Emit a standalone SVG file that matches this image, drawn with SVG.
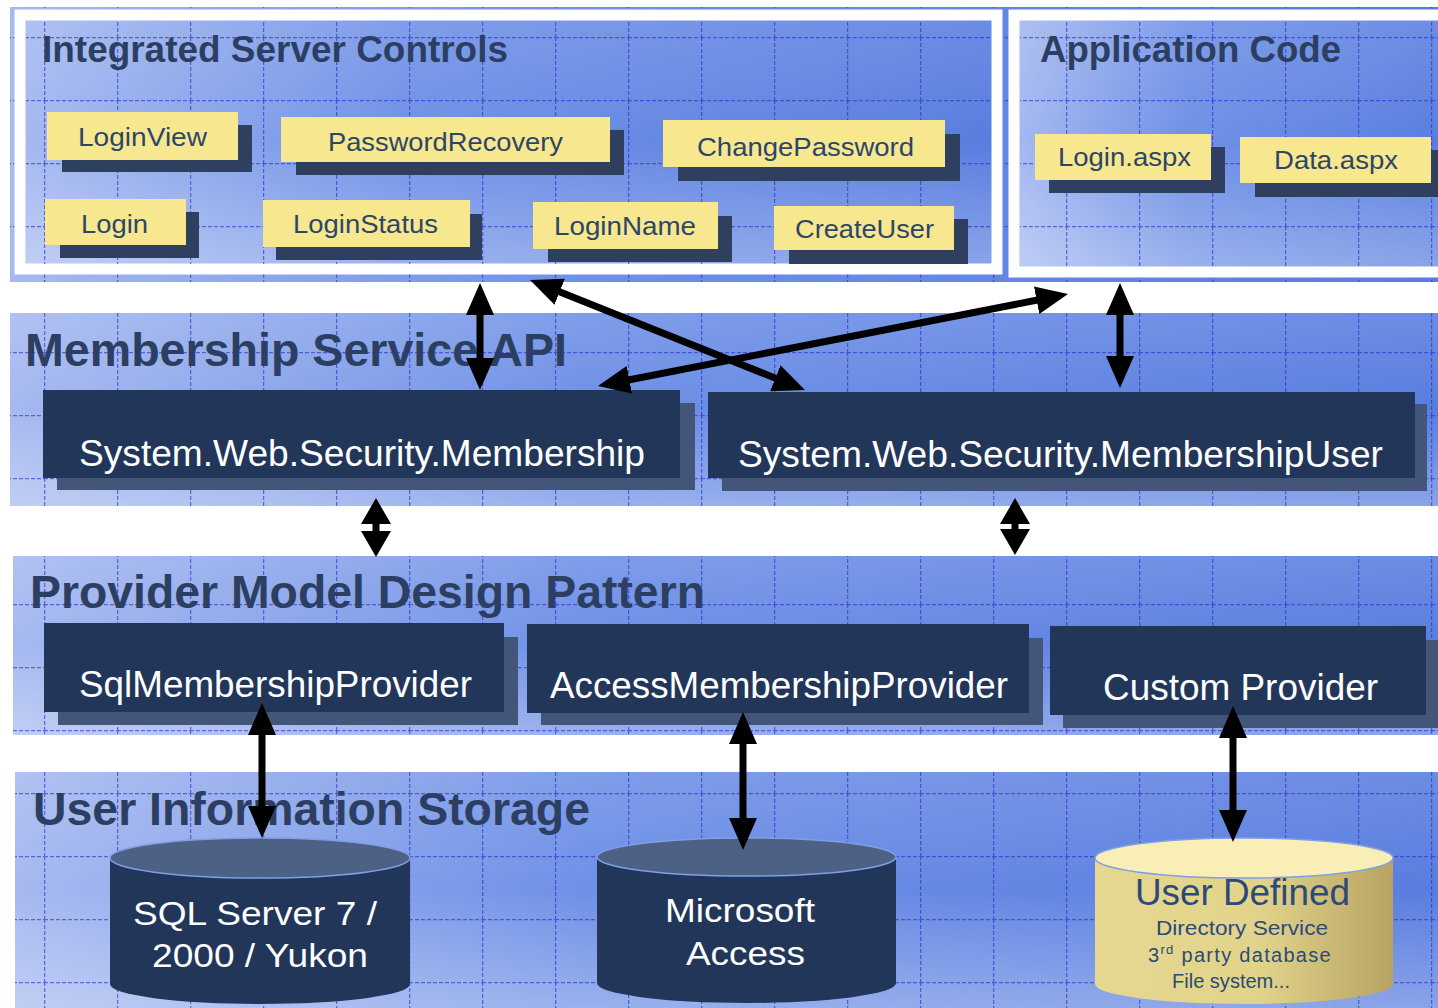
<svg xmlns="http://www.w3.org/2000/svg" width="1438" height="1008" viewBox="0 0 1438 1008">
<style>
.ttl{font-family:"Liberation Sans",Arial,sans-serif;font-weight:bold;font-size:46px;fill:#2c3f63}
.ttl2{font-family:"Liberation Sans",Arial,sans-serif;font-weight:bold;font-size:37px;fill:#2c3f63}
.yb{fill:#f7e78f}
.ys{fill:#2f3f5f}
.yt{font-family:"Liberation Sans",Arial,sans-serif;font-size:25px;fill:#2d4668}
.db{fill:#22365a}
.ds{fill:#44557a}
.dt{font-family:"Liberation Sans",Arial,sans-serif;font-size:37px;fill:#ffffff}
.ct{font-family:"Liberation Sans",Arial,sans-serif;font-size:34px;fill:#ffffff}
.ut{font-family:"Liberation Sans",Arial,sans-serif;fill:#2b4a7a}
.grid{fill:url(#grid)}
.arr{stroke:#000;stroke-width:7;fill:none;marker-start:url(#ah);marker-end:url(#ah)}
.arrs{stroke:#000;stroke-width:7;fill:none;marker-start:url(#ahs);marker-end:url(#ahs)}
</style>
<defs>
<linearGradient id="pg" x1="0" y1="0" x2="1" y2="0">
<stop offset="0" stop-color="#a6b9f0"/>
<stop offset="0.4" stop-color="#6e90e6"/>
<stop offset="1" stop-color="#587ddf"/>
</linearGradient>
<linearGradient id="pv" x1="0" y1="0" x2="0" y2="1">
<stop offset="0" stop-color="#ffffff" stop-opacity="0.12"/>
<stop offset="0.5" stop-color="#ffffff" stop-opacity="0"/>
<stop offset="1" stop-color="#ffffff" stop-opacity="0.3"/>
</linearGradient>
<linearGradient id="yc" x1="0" y1="0" x2="1" y2="0">
<stop offset="0" stop-color="#e6d891"/>
<stop offset="0.55" stop-color="#e2d38a"/>
<stop offset="1" stop-color="#b7a462"/>
</linearGradient>
<pattern id="grid" patternUnits="userSpaceOnUse" x="44" y="100" width="73" height="63">
<path d="M0.5,0 V63 M0,0.5 H73" stroke="#2a2acc" stroke-width="1.5" stroke-dasharray="4 2" stroke-opacity="0.62" fill="none"/>
</pattern>
<marker id="ah" markerUnits="userSpaceOnUse" viewBox="0 0 32 28" markerWidth="32" markerHeight="28" refX="1" refY="14" orient="auto-start-reverse">
<path d="M0,0 L32,14 L0,28 z" fill="#000"/>
</marker>
<marker id="ahs" markerUnits="userSpaceOnUse" viewBox="0 0 26 30" markerWidth="26" markerHeight="30" refX="1" refY="15" orient="auto-start-reverse">
<path d="M0,0 L26,15 L0,30 z" fill="#000"/>
</marker>
</defs>

<rect width="1438" height="1008" fill="#ffffff"/>

<!-- Top section -->
<g id="top-band">
<rect x="10" y="7" width="1428" height="275" fill="url(#pg)"/>
<rect x="10" y="7" width="1428" height="275" class="grid"/>
</g>

<g id="integrated-server-controls">
<rect x="20" y="15" width="977" height="254" fill="url(#pg)" stroke="#ffffff" stroke-width="11"/>
<rect x="26" y="20" width="966" height="244" fill="url(#pv)"/>
<rect x="26" y="20" width="966" height="244" class="grid"/>
<text class="ttl2" x="42" y="62" textLength="466" lengthAdjust="spacingAndGlyphs">Integrated Server Controls</text>
</g>

<g id="application-code">
<rect x="1014" y="15" width="440" height="257" fill="url(#pg)" stroke="#ffffff" stroke-width="11"/>
<rect x="1020" y="20" width="418" height="247" fill="url(#pv)"/>
<rect x="1020" y="20" width="418" height="247" class="grid"/>
<text class="ttl2" x="1040" y="62" textLength="301" lengthAdjust="spacingAndGlyphs">Application Code</text>
</g>

<g id="loginview">
<rect class="ys" x="62" y="125" width="190" height="47"/>
<rect class="yb" x="47" y="112" width="191" height="48"/>
<text class="yt" x="78" y="146" textLength="129" lengthAdjust="spacingAndGlyphs">LoginView</text>
</g>
<g id="passwordrecovery">
<rect class="ys" x="296" y="130" width="328" height="45"/>
<rect class="yb" x="281" y="117" width="329" height="45"/>
<text class="yt" x="328" y="151" textLength="235" lengthAdjust="spacingAndGlyphs">PasswordRecovery</text>
</g>
<g id="changepassword">
<rect class="ys" x="678" y="134" width="282" height="47"/>
<rect class="yb" x="663" y="120" width="282" height="47"/>
<text class="yt" x="697" y="156" textLength="217" lengthAdjust="spacingAndGlyphs">ChangePassword</text>
</g>
<g id="login">
<rect class="ys" x="60" y="212" width="139" height="46"/>
<rect class="yb" x="45" y="199" width="141" height="46"/>
<text class="yt" x="81" y="233" textLength="67" lengthAdjust="spacingAndGlyphs">Login</text>
</g>
<g id="loginstatus">
<rect class="ys" x="276" y="214" width="206" height="46"/>
<rect class="yb" x="263" y="200" width="207" height="47"/>
<text class="yt" x="293" y="233" textLength="145" lengthAdjust="spacingAndGlyphs">LoginStatus</text>
</g>
<g id="loginname">
<rect class="ys" x="548" y="216" width="184" height="46"/>
<rect class="yb" x="533" y="202" width="185" height="47"/>
<text class="yt" x="554" y="235" textLength="142" lengthAdjust="spacingAndGlyphs">LoginName</text>
</g>
<g id="createuser">
<rect class="ys" x="789" y="219" width="179" height="45"/>
<rect class="yb" x="774" y="206" width="180" height="44"/>
<text class="yt" x="795" y="238" textLength="139" lengthAdjust="spacingAndGlyphs">CreateUser</text>
</g>
<g id="login-aspx">
<rect class="ys" x="1049" y="147" width="176" height="46"/>
<rect class="yb" x="1035" y="134" width="176" height="46"/>
<text class="yt" x="1058" y="166" textLength="133" lengthAdjust="spacingAndGlyphs">Login.aspx</text>
</g>
<g id="data-aspx">
<rect class="ys" x="1255" y="150" width="190" height="47"/>
<rect class="yb" x="1240" y="137" width="191" height="46"/>
<text class="yt" x="1274" y="169" textLength="124" lengthAdjust="spacingAndGlyphs">Data.aspx</text>
</g>

<!-- Membership Service API -->
<g id="membership-service-api">
<rect x="10" y="313" width="1428" height="193" fill="url(#pg)"/>
<rect x="10" y="313" width="1428" height="193" fill="url(#pv)"/>
<rect x="10" y="313" width="1428" height="193" class="grid"/>
<text class="ttl" x="25" y="366" textLength="542" lengthAdjust="spacingAndGlyphs">Membership Service API</text>
</g>
<g id="membership">
<rect class="ds" x="57" y="403" width="638" height="87"/>
<rect class="db" x="43" y="390" width="637" height="88"/>
<text class="dt" x="79" y="466" textLength="566" lengthAdjust="spacingAndGlyphs">System.Web.Security.Membership</text>
</g>
<g id="membershipuser">
<rect class="ds" x="722" y="404" width="705" height="87"/>
<rect class="db" x="708" y="392" width="707" height="86"/>
<text class="dt" x="738" y="467" textLength="645" lengthAdjust="spacingAndGlyphs">System.Web.Security.MembershipUser</text>
</g>

<!-- Provider Model -->
<g id="provider-model-design-pattern">
<rect x="13" y="556" width="1425" height="179" fill="url(#pg)"/>
<rect x="13" y="556" width="1425" height="179" fill="url(#pv)"/>
<rect x="13" y="556" width="1425" height="179" class="grid"/>
<text class="ttl" x="30" y="608" textLength="675" lengthAdjust="spacingAndGlyphs">Provider Model Design Pattern</text>
</g>
<g id="sqlmembershipprovider">
<rect class="ds" x="58" y="637" width="460" height="88"/>
<rect class="db" x="44" y="623" width="460" height="89"/>
<text class="dt" x="79" y="697" textLength="393" lengthAdjust="spacingAndGlyphs">SqlMembershipProvider</text>
</g>
<g id="accessmembershipprovider">
<rect class="ds" x="541" y="638" width="502" height="87"/>
<rect class="db" x="527" y="624" width="502" height="89"/>
<text class="dt" x="550" y="698" textLength="458" lengthAdjust="spacingAndGlyphs">AccessMembershipProvider</text>
</g>
<g id="custom-provider">
<rect class="ds" x="1063" y="640" width="380" height="88"/>
<rect class="db" x="1050" y="626" width="376" height="89"/>
<text class="dt" x="1103" y="700" textLength="275" lengthAdjust="spacingAndGlyphs">Custom Provider</text>
</g>

<!-- Storage -->
<g id="user-information-storage">
<rect x="15" y="772" width="1423" height="236" fill="url(#pg)"/>
<rect x="15" y="772" width="1423" height="236" fill="url(#pv)"/>
<rect x="15" y="772" width="1423" height="236" class="grid"/>
<text class="ttl" x="33" y="825" textLength="557" lengthAdjust="spacingAndGlyphs">User Information Storage</text>
</g>
<g id="sql-server">
<path d="M110,858 V984 A150,20 0 0 0 410,984 V858 Z" fill="#22365a"/>
<ellipse cx="260" cy="858" rx="150" ry="20" fill="#4c6184" stroke="#7f9fe6" stroke-width="1.5"/>
<text class="ct" x="133" y="925" textLength="244" lengthAdjust="spacingAndGlyphs">SQL Server 7 /</text>
<text class="ct" x="152" y="967" textLength="216" lengthAdjust="spacingAndGlyphs">2000 / Yukon</text>
</g>
<g id="microsoft-access">
<path d="M597,857 V983 A149.5,20 0 0 0 896,983 V857 Z" fill="#22365a"/>
<ellipse cx="746.5" cy="857" rx="149.5" ry="19" fill="#4c6184" stroke="#7f9fe6" stroke-width="1.5"/>
<text class="ct" x="665" y="922" textLength="150" lengthAdjust="spacingAndGlyphs">Microsoft</text>
<text class="ct" x="686" y="965" textLength="119" lengthAdjust="spacingAndGlyphs">Access</text>
</g>
<g id="user-defined">
<path d="M1095,858 V984 A149,20 0 0 0 1393,984 V858 Z" fill="url(#yc)"/>
<ellipse cx="1244" cy="858" rx="149" ry="20" fill="#f8eeb6" stroke="#7f9fe6" stroke-width="1.5"/>
<text class="ut" x="1135" y="905" font-size="36" textLength="215" lengthAdjust="spacingAndGlyphs">User Defined</text>
<text class="ut" x="1156" y="935" font-size="20" textLength="172" lengthAdjust="spacingAndGlyphs">Directory Service</text>
<text class="ut" x="1148" y="962" font-size="20" letter-spacing="1.3">3<tspan font-size="13" dy="-8">rd</tspan><tspan dy="8"> party database</tspan></text>
<text class="ut" x="1172" y="988" font-size="20" textLength="118" lengthAdjust="spacingAndGlyphs">File system...</text>
</g>

<!-- Connectors -->
<g id="connectors">
<line class="arr" x1="480" y1="314" x2="480" y2="359"/>
<line class="arr" x1="558.8" y1="291.5" x2="776.2" y2="378.5"/>
<line class="arr" x1="1037.6" y1="300" x2="628.4" y2="380"/>
<line class="arr" x1="1120" y1="314" x2="1120" y2="357"/>
<line class="arrs" x1="376" y1="523" x2="376" y2="532"/>
<line class="arrs" x1="1015" y1="523" x2="1015" y2="530"/>
<line class="arr" x1="262" y1="734" x2="262" y2="807"/>
<line class="arr" x1="743" y1="743" x2="743" y2="819"/>
<line class="arr" x1="1233" y1="737" x2="1233" y2="811"/>
</g>
</svg>
